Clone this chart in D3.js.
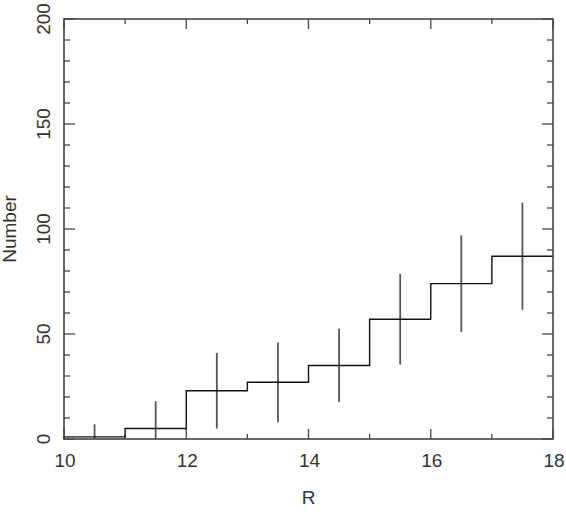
<!DOCTYPE html>
<html>
<head>
<meta charset="utf-8">
<script src="https://cdn.jsdelivr.net/npm/d3@7"></script>
<style>
  body { margin: 0; background: #fff; }
  text { font-family: "Liberation Sans", Arial, sans-serif; fill: #333; }
</style>
</head>
<body>
<div class="chart"></div>
<script>
// histogram bins (R magnitude), counts and error half-widths
const binStart = [10, 11, 12, 13, 14, 15, 16, 17]
const binEnd   = [11, 12, 13, 14, 15, 16, 17, 18]
const counts   = [1, 5, 23, 27, 35, 57, 74, 87]
const errors   = [6, 13, 18, 19, 17.5, 21.5, 23, 25.5]

const xTickLabels = [10, 12, 14, 16, 18]
const yTickLabels = [0, 50, 100, 150, 200]

const margin = ({top: 19, right: 13, bottom: 73, left: 64})
const width = 566 - margin.left - margin.right,
      height = 512 - margin.top - margin.bottom;

const svg = d3.select(".chart").append("svg")
  .attr("width", width + margin.left + margin.right)
  .attr("height", height + margin.top + margin.bottom)
  .append("g")
  .attr("transform", "translate(" + margin.left + "," + margin.top + ")");

const xScale = d3.scaleLinear().domain([10, 18]).range([0, width]);
const yScale = d3.scaleLinear().domain([0, 200]).range([height, 0]);

const frameColor = "#444";

// ticks on all four sides, pointing inward
const xMinor = d3.range(10, 18.01, 1)
const yMinor = d3.range(0, 200.01, 10)

function addTicks(vals, isMajor, horizontal) {
  const len = horizontal ? (isMajor ? 10 : 5) : (isMajor ? 11 : 6)
  vals.forEach(v => {
    if (horizontal) {
      const x = xScale(v)
      svg.append("line").attr("x1", x).attr("x2", x).attr("y1", height).attr("y2", height - len)
        .attr("stroke", frameColor).attr("stroke-width", 1.3)
      svg.append("line").attr("x1", x).attr("x2", x).attr("y1", 0).attr("y2", len)
        .attr("stroke", frameColor).attr("stroke-width", 1.3)
    } else {
      const y = yScale(v)
      svg.append("line").attr("x1", 0).attr("x2", len).attr("y1", y).attr("y2", y)
        .attr("stroke", frameColor).attr("stroke-width", 1.3)
      svg.append("line").attr("x1", width).attr("x2", width - len).attr("y1", y).attr("y2", y)
        .attr("stroke", frameColor).attr("stroke-width", 1.3)
    }
  })
}
addTicks(xMinor.filter(v => v % 2 !== 0), false, true)
addTicks(xTickLabels, true, true)
addTicks(yMinor.filter(v => v % 50 !== 0), false, false)
addTicks(yTickLabels, true, false)

// error bars (clipped to the plot box)
svg.append("g").selectAll("line")
  .data(counts).enter().append("line")
  .attr("x1", (d, i) => xScale((binStart[i] + binEnd[i]) / 2))
  .attr("x2", (d, i) => xScale((binStart[i] + binEnd[i]) / 2))
  .attr("y1", (d, i) => yScale(Math.max(0, d - errors[i])))
  .attr("y2", (d, i) => yScale(d + errors[i]))
  .attr("stroke", "#555")
  .attr("stroke-width", 1.8);

// histogram step line
const pts = [[binStart[0], 0]]
counts.forEach((c, i) => { pts.push([binStart[i], c]); pts.push([binEnd[i], c]) })
svg.append("path")
  .attr("d", d3.line().x(d => xScale(d[0])).y(d => yScale(d[1]))(pts))
  .attr("fill", "none")
  .attr("stroke", "#111")
  .attr("stroke-width", 1.4);

// frame
svg.append("rect")
  .attr("width", width).attr("height", height)
  .attr("fill", "none").attr("stroke", frameColor).attr("stroke-width", 1.6);

// tick labels
svg.append("g").selectAll("text")
  .data(xTickLabels).enter().append("text")
  .attr("x", d => xScale(d) + 1)
  .attr("y", height + 28)
  .attr("text-anchor", "middle")
  .attr("font-size", "19px")
  .text(d => d);

svg.append("g").selectAll("text")
  .data(yTickLabels).enter().append("text")
  .attr("transform", d => `translate(-14, ${yScale(d)}) rotate(-90)`)
  .attr("text-anchor", "middle")
  .attr("font-size", "19px")
  .text(d => d);

// axis titles
svg.append("text")
  .attr("x", width / 2)
  .attr("y", height + 65)
  .attr("text-anchor", "middle")
  .attr("font-size", "19px")
  .text("R");

svg.append("text")
  .attr("transform", `translate(-48, ${height / 2}) rotate(-90)`)
  .attr("text-anchor", "middle")
  .attr("font-size", "19px")
  .text("Number");
</script>
</body>
</html>
